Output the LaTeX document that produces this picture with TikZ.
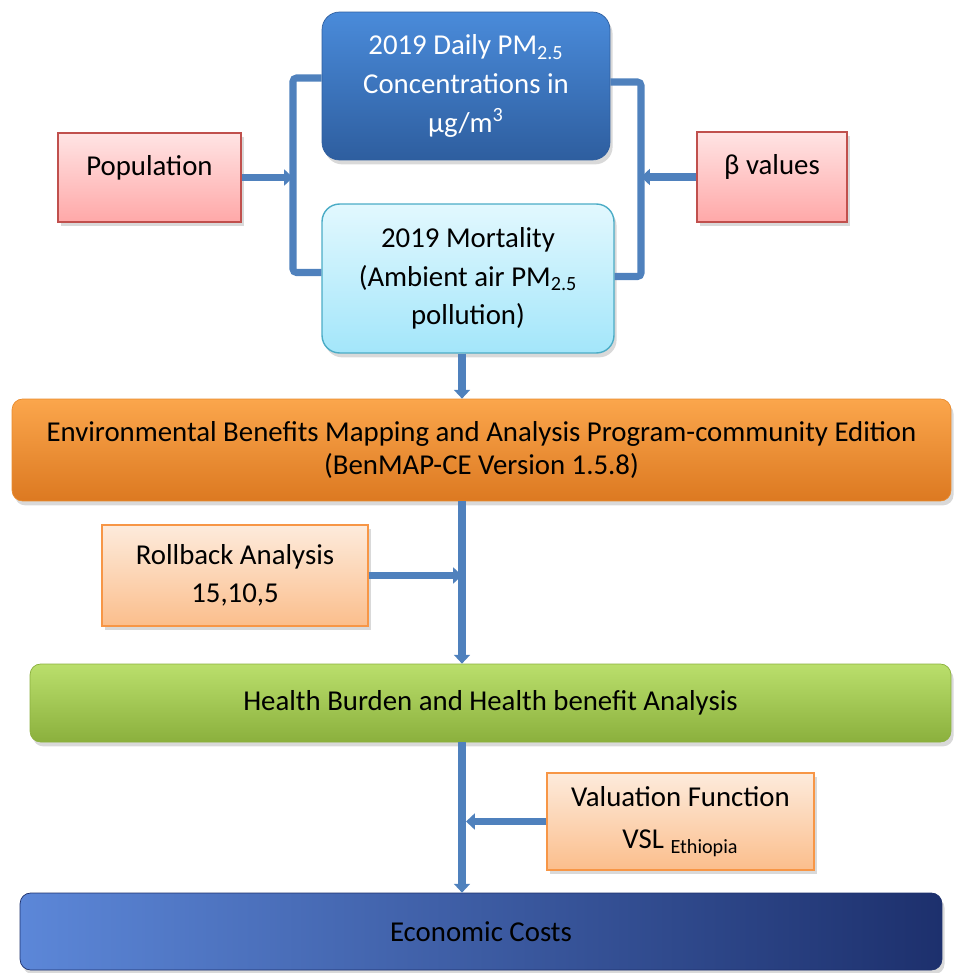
\documentclass[tikz,border=0pt]{standalone}
\usepackage{fontspec}
\setmainfont{Carlito}
\usepackage{tikz}
\usetikzlibrary{arrows.meta,positioning,shadows}
\definecolor{FLOWline}{HTML}{4F81BD}
\definecolor{PMtop}{HTML}{4A8BDA}
\definecolor{PMbot}{HTML}{2E5E9F}
\definecolor{MORtop}{HTML}{E2F8FE}
\definecolor{MORbot}{HTML}{A3E6FA}
\definecolor{MORedge}{HTML}{4BACC6}
\definecolor{INtop}{HTML}{FFE4E4}
\definecolor{INbot}{HTML}{FFA8A8}
\definecolor{INedge}{HTML}{C0504D}
\definecolor{BENtop}{HTML}{FBA64C}
\definecolor{BENbot}{HTML}{DC7921}
\definecolor{BENedge}{HTML}{E98A2C}
\definecolor{SCNtop}{HTML}{FDEBDC}
\definecolor{SCNbot}{HTML}{FBBE8C}
\definecolor{SCNedge}{HTML}{F79646}
\definecolor{HBtop}{HTML}{BADF6C}
\definecolor{HBbot}{HTML}{8BB03D}
\definecolor{ECleft}{HTML}{5C87D8}
\definecolor{ECmid}{HTML}{4C72C4}
\definecolor{ECright}{HTML}{1D306D}
\tikzset{flowbox/.style={align=center,inner sep=2pt,
 drop shadow={opacity=0.3,shadow xshift=1.5pt,shadow yshift=-2.5pt}},
 inbox/.style={flowbox,draw=INedge,thick,top color=INtop,bottom color=INbot,text depth=14pt},
 scnbox/.style={flowbox,draw=SCNedge,thick,top color=SCNtop,bottom color=SCNbot},
 bandbox/.style={flowbox,rounded corners=6pt},
 flowarr/.style={-{Triangle[length=5pt,width=9pt]},line width=4pt,draw=FLOWline},
 flowline/.style={line width=4pt,draw=FLOWline,rounded corners=2pt}}

\begin{document}
\begin{tikzpicture}[x=0.02cm,y=-0.02cm,font=\fontsize{16.4}{22}\selectfont]
\useasboundingbox (0,0) rectangle (953,973);
\coordinate (spine) at (462,0);
\coordinate (brkL) at (293,180);
\coordinate (brkR) at (641,180);
% inputs of the model
\node[flowbox,rounded corners=10pt,draw=PMbot,top color=PMtop,bottom color=PMbot,text=white,
 minimum width=5.76cm,minimum height=2.96cm] (pm) at (466,86)
 {2019 Daily PM\textsubscript{2.5}\\Concentrations in\\µg/m\textsuperscript{3}};
\node[flowbox,rounded corners=10pt,draw=MORedge,thick,top color=MORtop,bottom color=MORbot,
 minimum width=5.84cm,minimum height=2.98cm] (mort) at (468,278.5)
 {2019 Mortality\\(Ambient air PM\textsubscript{2.5}\\pollution)};
\node[inbox,minimum width=3.66cm,minimum height=1.78cm] (pop) at (149.5,177.5) {Population};
\node[inbox,minimum width=3.0cm,minimum height=1.8cm] (beta) at (772,177) {β values};
% BenMAP and the analysis steps
\node[bandbox,draw=BENedge,top color=BENtop,bottom color=BENbot,
 minimum width=18.78cm,minimum height=2.04cm,font=\fontsize{16.4}{19.3}\selectfont] (benmap) at (481.5,450)
 {Environmental Benefits Mapping and Analysis Program-community Edition\\(BenMAP-CE Version 1.5.8)};
\node[scnbox,minimum width=5.32cm,minimum height=2.02cm] (roll) at (235,575.5)
 {Rollback Analysis\\15,10,5};
\node[bandbox,draw=HBbot,top color=HBtop,bottom color=HBbot,
 minimum width=18.42cm,minimum height=1.56cm] (health) at (490.5,703)
 {Health Burden and Health benefit Analysis};
\node[scnbox,minimum width=5.34cm,minimum height=1.94cm,font=\fontsize{16.4}{24}\selectfont] (valfn) at (680.5,821.5)
 {Valuation Function\\VSL \textsubscript{Ethiopia}};
\node[bandbox,draw=ECright,left color=ECleft,middle color=ECmid,right color=ECright,
 minimum width=18.44cm,minimum height=1.54cm] (econ) at (481,931.5) {Economic Costs};
% brackets joining the inputs
\draw[flowline] ([yshift=0.16cm]pm.west) -| (brkL) |- ([yshift=0.12cm]mort.west);
\draw[flowline] ([yshift=0.08cm]pm.east) -| (brkR) |- ([yshift=0.04cm]mort.east);
\draw[flowarr] (pop.east) -- (pop.east -| brkL);
\draw[flowarr] (beta.west) -- (beta.west -| brkR);
% main chain
\draw[flowarr] (mort.south -| spine) -- (benmap.north -| spine);
\draw[flowarr] (benmap.south -| spine) -- (health.north -| spine);
\draw[flowarr] (roll.east) -- (roll.east -| spine);
\draw[flowarr] (health.south -| spine) -- (econ.north -| spine);
\draw[flowarr] (valfn.west) -- ([xshift=0.08cm]valfn.west -| spine);
\end{tikzpicture}
\end{document}
